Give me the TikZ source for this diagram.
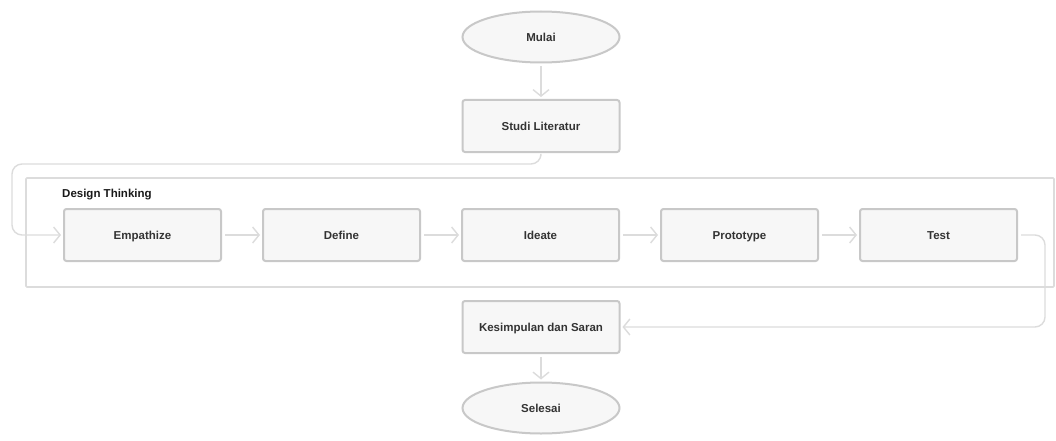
\documentclass[tikz,border=0pt]{standalone}
\usepackage{fontspec}
\setmainfont{Liberation Sans}
\usetikzlibrary{arrows.meta,shapes.geometric}
\definecolor{boxfill}{HTML}{F7F7F7}
\definecolor{boxline}{HTML}{C8C8C8}
\definecolor{conn}{HTML}{DCDCDC}
\definecolor{txt}{HTML}{333333}
\begin{document}
\begin{tikzpicture}[x=1pt,y=-1pt,
  lbl/.style={font=\bfseries\fontsize{11.5}{13}\selectfont, text=txt, text height=8.3pt, text depth=0pt},
  proc/.style={lbl, draw=boxline, fill=boxfill, line width=2pt, rounded corners=2.5pt,
    minimum width=157pt, minimum height=52pt, inner sep=0pt},
  term/.style={lbl, ellipse, draw=boxline, fill=boxfill, line width=2pt,
    minimum width=157pt, minimum height=51pt, inner sep=0pt},
  flow/.style={draw=conn, line width=1.4pt, rounded corners=10pt,
    -{Straight Barb[length=6.5pt,width=16pt,line width=1.4pt]}, shorten >=2pt, shorten <=3pt},
  group/.style={draw=conn, line width=1.6pt, minimum width=1028pt, minimum height=109pt, inner sep=0pt, rounded corners=1pt},
  grouplabel/.style={font=\bfseries\fontsize{11.5}{13}\selectfont, text=black!90, anchor=west, inner sep=0pt}
]
\useasboundingbox (0,0) rectangle (1056,441);
\fill[white] (0,0) rectangle (1056,441);

\node[group] (dt) at (540,232.5) {};
\node[grouplabel] (dtl) at (62,195) {Design Thinking};

\node[term] (mulai) at (541,37) {Mulai};
\node[proc] (studi) at (541,126) {Studi Literatur};
\node[proc] (emp) at (142.5,235) {Empathize};
\node[proc] (def) at (341.5,235) {Define};
\node[proc] (ide) at (540.5,235) {Ideate};
\node[proc] (pro) at (739.5,235) {Prototype};
\node[proc] (test) at (938.5,235) {Test};
\node[proc] (kes) at (541,327) {Kesimpulan dan Saran};
\node[term] (sel) at (541,408) {Selesai};

\coordinate (l1) at (541,164);
\coordinate (l2) at (12,164);
\coordinate (l3) at (12,235);
\coordinate (r1) at (1045,235);
\coordinate (r2) at (1045,327);

\draw[flow] (mulai) -- (studi);
\draw[flow] (studi.south) -- (l1) -- (l2) -- (l3) -- (emp.west);
\draw[flow] (emp) -- (def);
\draw[flow] (def) -- (ide);
\draw[flow] (ide) -- (pro);
\draw[flow] (pro) -- (test);
\draw[flow] (test.east) -- (r1) -- (r2) -- (kes.east);
\draw[flow] (kes) -- (sel);
\end{tikzpicture}
\end{document}
